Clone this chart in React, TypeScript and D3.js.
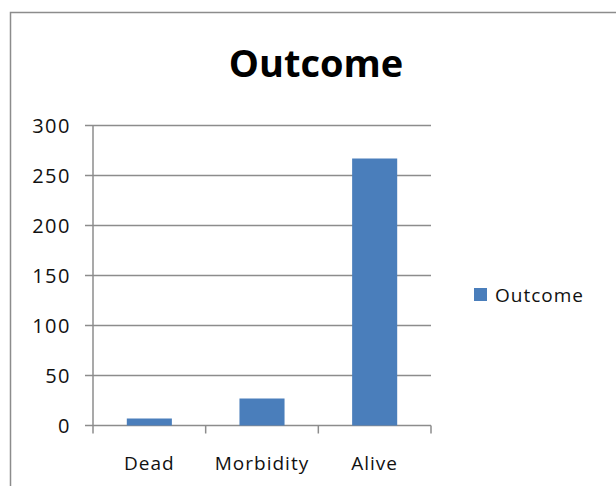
import * as d3 from "d3";
import { useEffect, useRef } from "react";

const categories = ["Dead", "Morbidity", "Alive"];
const values = [7, 27, 267];
const yTicks = [0, 50, 100, 150, 200, 250, 300];
const seriesName = "Outcome";

const App: React.FC = () => {
  const svgRef = useRef<SVGSVGElement | null>(null);

  useEffect(() => {
    const svg = d3.select(svgRef.current);
    svg.selectAll("*").remove();

    const width = 616;
    const height = 486;
    const font = "'Open Sans', sans-serif";

    svg.attr("width", width).attr("height", height);

    svg.append("rect").attr("width", width).attr("height", height).attr("fill", "#fff");

    // outer chart frame (runs off the right and bottom edges)
    svg
      .append("rect")
      .attr("x", 10.5)
      .attr("y", 12.5)
      .attr("width", 640)
      .attr("height", 500)
      .attr("fill", "none")
      .attr("stroke", "#8c8c8c")
      .attr("stroke-width", 1.5);

    // Title
    svg
      .append("text")
      .attr("x", 316)
      .attr("y", 77)
      .attr("text-anchor", "middle")
      .attr("font-family", font)
      .attr("font-weight", "bold")
      .attr("font-size", 38)
      .attr("fill", "#000")
      .text("Outcome");

    const x = d3.scaleBand<string>().domain(categories).range([93, 431]).paddingInner(0.6).paddingOuter(0.3);
    const xEdge = d3.scaleLinear().domain([0, categories.length]).range([93, 431]);
    const y = d3.scaleLinear().domain([0, 300]).range([425.5, 125.5]);

    const g = svg.append("g");

    // gridlines
    g.selectAll("line.grid")
      .data(yTicks)
      .join("line")
      .attr("class", "grid")
      .attr("x1", 85)
      .attr("x2", 431)
      .attr("y1", (d) => y(d))
      .attr("y2", (d) => y(d))
      .attr("stroke", "#8c8c8c")
      .attr("stroke-width", 1.5);

    // y axis line
    g.append("line")
      .attr("x1", 93)
      .attr("x2", 93)
      .attr("y1", y(300))
      .attr("y2", y(0))
      .attr("stroke", "#8c8c8c")
      .attr("stroke-width", 1.5);

    // x ticks
    g.selectAll("line.xtick")
      .data(d3.range(categories.length + 1))
      .join("line")
      .attr("class", "xtick")
      .attr("x1", (d) => xEdge(d))
      .attr("x2", (d) => xEdge(d))
      .attr("y1", y(0))
      .attr("y2", y(0) + 8)
      .attr("stroke", "#8c8c8c")
      .attr("stroke-width", 1.5);

    // bars
    g.selectAll("rect.bar")
      .data(values)
      .join("rect")
      .attr("class", "bar")
      .attr("x", (_, i) => x(categories[i]) as number)
      .attr("width", x.bandwidth())
      .attr("y", (d) => y(d))
      .attr("height", (d) => y(0) - y(d))
      .attr("fill", "#4a7ebb");

    // y labels
    g.selectAll("text.ylab")
      .data(yTicks)
      .join("text")
      .attr("class", "ylab")
      .attr("x", 71)
      .attr("y", (d) => y(d) + 7)
      .attr("text-anchor", "end")
      .attr("font-family", font)
      .attr("font-size", 20)
      .attr("letter-spacing", 1.5)
      .attr("fill", "#111")
      .text((d) => d);

    // x labels
    g.selectAll("text.xlab")
      .data(categories)
      .join("text")
      .attr("class", "xlab")
      .attr("x", (d) => (x(d) as number) + x.bandwidth() / 2)
      .attr("y", 470)
      .attr("text-anchor", "middle")
      .attr("font-family", font)
      .attr("font-size", 19)
      .attr("letter-spacing", 1)
      .attr("fill", "#111")
      .text((d) => d);

    // legend
    svg
      .append("rect")
      .attr("x", 474)
      .attr("y", 288)
      .attr("width", 13)
      .attr("height", 13)
      .attr("fill", "#4a7ebb");
    svg
      .append("text")
      .attr("x", 495)
      .attr("y", 302)
      .attr("font-family", font)
      .attr("font-size", 19)
      .attr("letter-spacing", 1)
      .attr("fill", "#111")
      .text(seriesName);
  }, []);

  return <svg ref={svgRef} style={{ position: "absolute", left: 0, top: 0 }}></svg>;
};

export default App;
